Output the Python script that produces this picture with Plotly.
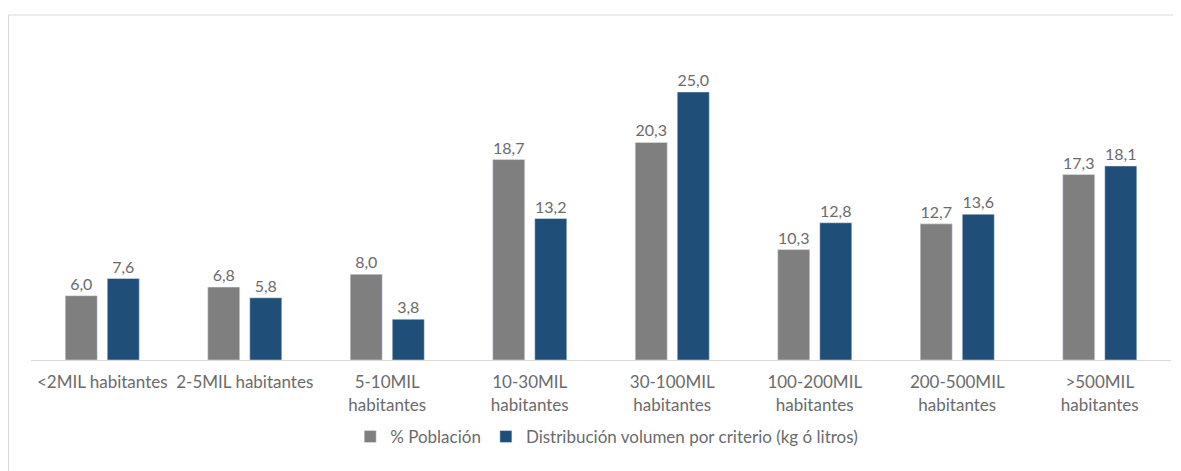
import plotly.graph_objects as go

categories = ["<2MIL habitantes", "2-5MIL habitantes", "5-10MIL<br>habitantes", "10-30MIL<br>habitantes",
              "30-100MIL<br>habitantes", "100-200MIL<br>habitantes", "200-500MIL<br>habitantes", ">500MIL<br>habitantes"]
poblacion = [6.0, 6.8, 8.0, 18.7, 20.3, 10.3, 12.7, 17.3]
distribucion = [7.6, 5.8, 3.8, 13.2, 25.0, 12.8, 13.6, 18.1]
series_names = ["% Población", "Distribución volumen por criterio (kg ó litros)"]

def fmt(v):
    return f"{v:.1f}".replace(".", ",")

W, H = 1181, 471
L, R, T, B = 23, 18, 22, 119
pw, ph = W - L - R, H - T - B
bottom = H - B

TXT = "#6b6b6b"

fig = go.Figure()
fig.add_trace(go.Bar(x=categories, y=poblacion, name=series_names[0], marker_color="#7f7f7f",
                     text=[fmt(v) for v in poblacion], textposition="outside", cliponaxis=False,
                     textfont=dict(color=TXT, size=16)))
fig.add_trace(go.Bar(x=categories, y=distribucion, name=series_names[1], marker_color="#1f4e79",
                     text=[fmt(v) for v in distribucion], textposition="outside", cliponaxis=False,
                     textfont=dict(color=TXT, size=16)))

fig.update_layout(
    width=W, height=H,
    margin=dict(l=L, r=R, t=T, b=B),
    paper_bgcolor="white", plot_bgcolor="white",
    font=dict(family="Lato, Open Sans, sans-serif", color=TXT, size=16),
    barmode="group", bargap=0.41, bargroupgap=0.238,
    showlegend=True,
    legend=dict(orientation="h", x=0.505, xanchor="center", y=(bottom - 429) / ph, yanchor="middle",
                font=dict(size=17, color=TXT), traceorder="normal", itemwidth=30),
    xaxis=dict(showline=True, linecolor="#d9d9d9", linewidth=1, ticks="outside", ticklen=7,
               tickcolor="rgba(0,0,0,0)", showgrid=False,
               automargin=False, tickfont=dict(size=17, color=TXT)),
    yaxis=dict(range=[0, ph / 10.72], visible=False, showgrid=False),
    shapes=[dict(type="rect", xref="paper", yref="paper",
                 x0=(0.5 - L) / pw, x1=(W + 5 - L) / pw,
                 y0=(bottom - (H + 5)) / ph, y1=(bottom - 7) / ph,
                 line=dict(color="#d9d9d9", width=1), fillcolor="rgba(0,0,0,0)", layer="below")],
)

fig.write_html("out.html")
